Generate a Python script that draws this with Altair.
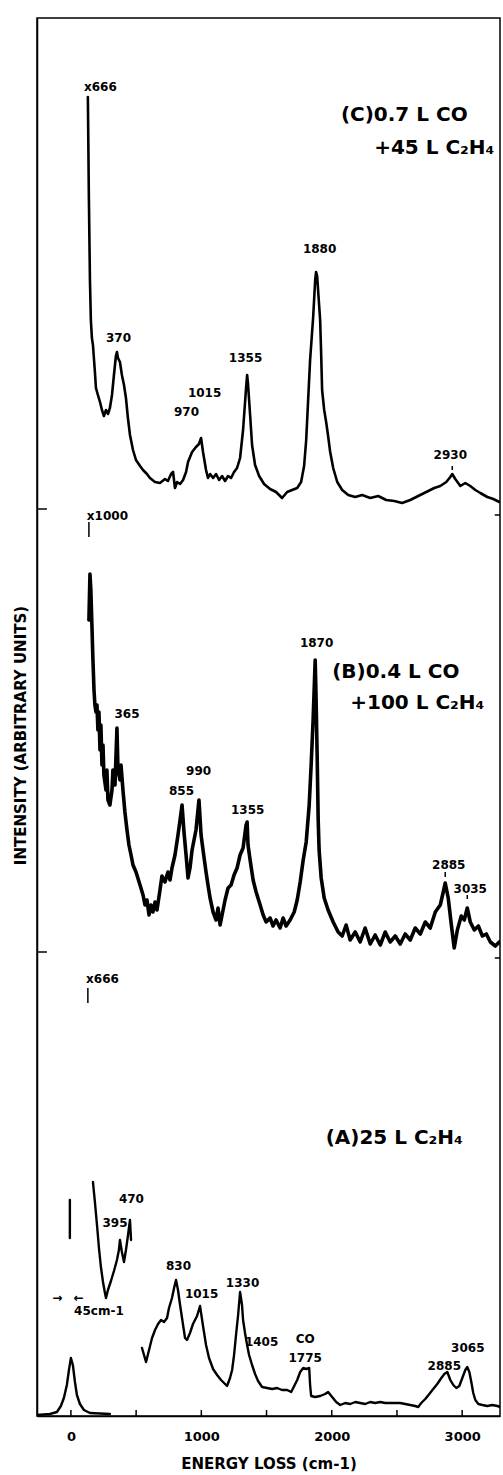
import altair as alt
import pandas as pd

# ---------------- data (energy loss cm-1, intensity in arbitrary units above each panel's base) ----------
# (C) 0.7 L CO + 45 L C2H4, x666
C_SPEC = [(130, 412), (138, 309), (146, 229), (153, 189), (161, 171), (169, 164), (184, 137), (192, 121),
          (207, 114), (223, 107), (238, 99), (253, 93), (269, 99), (284, 95), (299, 101), (315, 114),
          (330, 134), (345, 153), (353, 157), (361, 151), (376, 147), (391, 134), (407, 124), (422, 111),
          (437, 91), (453, 74), (476, 59), (499, 49), (530, 43), (553, 39), (583, 35), (606, 31), (645, 27),
          (683, 26), (721, 30), (744, 28), (768, 35), (783, 37), (798, 21), (814, 27), (837, 25), (860, 29),
          (883, 37), (898, 47), (929, 57), (959, 62), (982, 65), (998, 71), (1013, 57), (1036, 39), (1051, 31),
          (1067, 35), (1090, 31), (1113, 35), (1136, 29), (1159, 33), (1182, 28), (1205, 33), (1228, 31),
          (1251, 37), (1274, 41), (1297, 51), (1320, 79), (1343, 121), (1351, 134), (1358, 125), (1374, 94),
          (1389, 64), (1412, 44), (1443, 33), (1481, 25), (1527, 20), (1573, 17), (1619, 11), (1658, 17),
          (1696, 19), (1735, 21), (1765, 27), (1788, 43), (1804, 69), (1819, 109), (1834, 149), (1857, 191),
          (1873, 229), (1880, 237), (1888, 233), (1903, 204), (1911, 189), (1919, 154), (1926, 119), (1942, 99),
          (1957, 87), (1972, 73), (1988, 57), (2011, 41), (2042, 27), (2080, 19), (2126, 14), (2180, 12),
          (2233, 14), (2295, 11), (2356, 13), (2418, 9), (2479, 8), (2540, 6), (2602, 9), (2663, 13), (2725, 17),
          (2786, 21), (2832, 23), (2878, 27), (2909, 32), (2924, 35), (2947, 30), (2986, 23), (3024, 26),
          (3062, 23), (3101, 19), (3139, 16), (3193, 12), (3239, 10), (3285, 7)]

# (B) 0.4 L CO + 100 L C2H4, x1000
B_SPEC = [(138, 332), (146, 378), (153, 362), (161, 327), (169, 292), (177, 262), (184, 247), (192, 240),
          (200, 247), (207, 222), (215, 240), (223, 202), (230, 227), (238, 187), (246, 207), (253, 177),
          (269, 162), (276, 182), (284, 152), (299, 147), (315, 162), (322, 182), (338, 167), (353, 224),
          (361, 182), (376, 172), (384, 187), (399, 162), (414, 140), (430, 122), (445, 107), (461, 97),
          (476, 87), (499, 80), (530, 67), (553, 57), (568, 47), (583, 52), (599, 37), (614, 47), (629, 40),
          (645, 50), (660, 42), (683, 62), (698, 76), (721, 70), (744, 80), (760, 72), (775, 84), (798, 97),
          (821, 117), (837, 132), (852, 147), (867, 120), (883, 97), (898, 74), (913, 84), (929, 102),
          (944, 112), (959, 122), (982, 152), (998, 117), (1013, 102), (1036, 80), (1051, 67), (1067, 54),
          (1090, 40), (1113, 32), (1128, 44), (1144, 27), (1159, 37), (1182, 52), (1205, 64), (1228, 67),
          (1251, 77), (1274, 84), (1297, 97), (1320, 104), (1343, 127), (1351, 130), (1358, 107), (1374, 92),
          (1397, 72), (1420, 60), (1451, 47), (1474, 37), (1497, 30), (1527, 34), (1550, 26), (1573, 32),
          (1604, 24), (1627, 34), (1650, 26), (1681, 32), (1712, 40), (1735, 52), (1758, 70), (1781, 92),
          (1804, 110), (1827, 147), (1842, 187), (1857, 232), (1873, 292), (1880, 252), (1888, 197),
          (1896, 132), (1903, 102), (1919, 74), (1942, 54), (1972, 42), (2011, 30), (2049, 20), (2080, 16),
          (2110, 27), (2141, 12), (2180, 20), (2218, 10), (2256, 24), (2295, 8), (2333, 17), (2372, 7),
          (2410, 20), (2448, 10), (2487, 16), (2525, 8), (2563, 18), (2602, 12), (2640, 24), (2679, 18),
          (2717, 30), (2755, 24), (2794, 40), (2832, 47), (2855, 60), (2870, 69), (2893, 54), (2917, 27),
          (2939, 4), (2963, 22), (2993, 36), (3016, 32), (3039, 44), (3062, 30), (3093, 22), (3124, 26),
          (3155, 16), (3185, 18), (3216, 10), (3254, 6), (3285, 10)]

# (A) 25 L C2H4: elastic peak (x1) and the x666 loss spectrum
A_ELASTIC = [(-261, 1), (-161, 2), (-107, 4), (-77, 10), (-54, 18), (-31, 31), (-15, 46), (0, 58), (15, 51),
             (31, 34), (46, 21), (69, 12), (100, 6), (146, 3), (299, 2)]
A_TAIL = [(-8, 216), (-8, 178)]
A_LOW = [(169, 234), (184, 214), (200, 191), (215, 168), (230, 149), (246, 134), (261, 123), (269, 118),
         (284, 126), (307, 135), (330, 145), (353, 156), (368, 166), (376, 176), (391, 164), (407, 154),
         (422, 166), (437, 180), (453, 196), (461, 176)]
A_MAIN = [(545, 68), (576, 54), (599, 66), (622, 78), (645, 86), (668, 92), (691, 96), (714, 94), (737, 98),
          (752, 108), (775, 118), (791, 128), (806, 136), (821, 126), (837, 111), (860, 91), (875, 78),
          (890, 76), (913, 83), (936, 92), (967, 100), (990, 110), (1013, 90), (1036, 71), (1059, 58),
          (1090, 47), (1121, 41), (1151, 36), (1182, 32), (1197, 30), (1220, 38), (1236, 46), (1251, 61),
          (1266, 81), (1282, 101), (1297, 124), (1312, 111), (1320, 96), (1335, 83), (1351, 71), (1366, 61),
          (1389, 51), (1412, 42), (1435, 35), (1466, 29), (1504, 28), (1543, 27), (1581, 28), (1619, 26),
          (1658, 26), (1689, 24), (1712, 30), (1735, 36), (1758, 44), (1781, 48), (1804, 47), (1827, 48),
          (1834, 31), (1842, 20), (1873, 19), (1911, 20), (1949, 22), (1972, 24), (2003, 19), (2034, 14),
          (2065, 11), (2103, 13), (2141, 12), (2180, 14), (2218, 13), (2256, 12), (2295, 14), (2333, 13),
          (2372, 14), (2410, 13), (2448, 13), (2487, 13), (2525, 13), (2563, 12), (2602, 11), (2640, 10),
          (2663, 9), (2686, 13), (2717, 17), (2748, 22), (2778, 27), (2809, 32), (2840, 38), (2863, 42),
          (2886, 44), (2909, 36), (2932, 31), (2955, 28), (2978, 30), (3001, 38), (3024, 46), (3039, 49),
          (3055, 44), (3070, 34), (3085, 23), (3101, 16), (3124, 12), (3155, 11), (3193, 10), (3231, 11),
          (3270, 10), (3293, 9)]

# peak labels: (text, energy, intensity above panel base, panel)
PEAK_LABELS = [("x666", 226, 422, "C"), ("370", 365, 171, "C"), ("1355", 1339, 151, "C"),
               ("1015", 1025, 116, "C"), ("970", 886, 97, "C"), ("1880", 1907, 260, "C"),
               ("2930", 2909, 54, "C"),
               ("x1000", 280, 436, "B"), ("1870", 1884, 309, "B"), ("365", 430, 238, "B"),
               ("990", 979, 181, "B"), ("855", 848, 161, "B"), ("1355", 1355, 142, "B"),
               ("2885", 2897, 87, "B"), ("3035", 3062, 63, "B"),
               ("x666", 242, 437, "A"), ("470", 464, 217, "A"), ("395", 338, 193, "A"),
               ("830", 825, 150, "A"), ("1015", 1002, 122, "A"), ("1330", 1316, 133, "A"),
               ("45cm-1", 215, 105, "A"), ("1405", 1462, 74, "A"), ("CO", 1796, 77, "A"),
               ("1775", 1796, 58, "A"), ("3065", 3043, 68, "A"), ("2885", 2863, 50, "A"),
               ("\u2192", -104, 118, "A"), ("\u2190", 61, 118, "A")]

# panel titles: (text, energy at centre, intensity above panel base, panel)
PANEL_TITLES = [("(C)0.7 L CO", 2556, 394, "C"), ("+45 L C\u2082H\u2084", 2786, 361, "C"),
                ("(B)0.4 L CO", 2491, 280, "B"), ("+100 L C\u2082H\u2084", 2656, 249, "B"),
                ("(A)25 L C\u2082H\u2084", 2479, 278, "A")]

# small marker strokes: (energy, from intensity, to intensity, panel)
MARKS = [(138, 415, 430, "B"), (130, 413, 428, "A"), (2924, 39, 43, "C"), (2870, 75, 80, "B"),
         (3039, 53, 57, "B")]

PANEL_BASE = {"A": 0, "B": 464, "C": 907}
X_TICKS = [0, 500, 1000, 1500, 2000, 2500, 3000]
X_LABELS = [0, 1000, 2000, 3000]
X_DOMAIN = [-260, 3290]
Y_DOMAIN = [0, 1398]

# ---------------- tables ----------------
rows = []
for panel, seg, pts in [("C", "C", C_SPEC), ("B", "B", B_SPEC), ("A", "A0", A_ELASTIC),
                        ("A", "A1", A_TAIL), ("A", "A2", A_LOW), ("A", "A3", A_MAIN)]:
    for k, (e, i) in enumerate(pts):
        rows.append({"panel": panel, "seg": seg, "k": k, "E": e, "Y": i + PANEL_BASE[panel]})
spec = pd.DataFrame(rows)

labels = pd.DataFrame([{"t": t, "E": e, "Y": i + PANEL_BASE[p]} for t, e, i, p in PEAK_LABELS])
titles = pd.DataFrame([{"t": t, "E": e, "Y": i + PANEL_BASE[p]} for t, e, i, p in PANEL_TITLES])

rules = [{"E": e, "E2": e, "Y": a + PANEL_BASE[p], "Y2": b + PANEL_BASE[p]} for e, a, b, p in MARKS]
for t in X_TICKS:
    rules.append({"E": t, "E2": t, "Y": 0, "Y2": 6})
for p in ("B", "C"):
    rules.append({"E": X_DOMAIN[0], "E2": -184, "Y": PANEL_BASE[p], "Y2": PANEL_BASE[p]})
    rules.append({"E": 3250, "E2": X_DOMAIN[1], "Y": PANEL_BASE[p] - 6, "Y2": PANEL_BASE[p] - 6})
rules = pd.DataFrame(rules)

# ---------------- chart ----------------
FONT = "DejaVu Sans"
xs = alt.Scale(domain=X_DOMAIN, nice=False, zero=False)
ys = alt.Scale(domain=Y_DOMAIN, nice=False, zero=False)
x_axis = alt.Axis(values=X_LABELS, format="d", ticks=False, grid=False, labelFont=FONT,
                  labelFontWeight="bold", labelFontSize=13, labelColor="black", labelPadding=14,
                  labelFlush=False, domainColor="black", domainWidth=1.5, titleFont=FONT,
                  titleFontWeight="bold", titleFontSize=15, titleColor="black", titlePadding=13)
y_axis = alt.Axis(labels=False, ticks=False, grid=False, domainColor="black", domainWidth=1.5,
                  titleFont=FONT, titleFontWeight="bold", titleFontSize=15, titleColor="black",
                  titleAngle=270, titleX=-17, titleY=717, titleAlign="center", titleBaseline="middle")
X = alt.X("E:Q", scale=xs, axis=x_axis, title="ENERGY LOSS (cm-1)")
Y = alt.Y("Y:Q", scale=ys, axis=y_axis, title="INTENSITY (ARBITRARY UNITS)")


def trace(panel, width):
    return alt.Chart(spec).transform_filter(alt.datum.panel == panel).mark_line(
        color="black", strokeWidth=width, strokeJoin="round", strokeCap="round", clip=True
    ).encode(x=X, y=Y, detail="seg:N", order="k:Q")


rule_layer = alt.Chart(rules).mark_rule(color="black", strokeWidth=1.5).encode(
    x=X, x2="E2:Q", y=Y, y2="Y2:Q")

label_layer = alt.Chart(labels).mark_text(
    font=FONT, fontWeight="bold", fontSize=12, color="black", align="center", baseline="middle"
).encode(x=X, y=Y, text="t:N")

title_layer = alt.Chart(titles).mark_text(
    font=FONT, fontWeight="bold", fontSize=20, color="black", align="center", baseline="middle"
).encode(x=X, y=Y, text="t:N")

chart = alt.layer(
    trace("C", 2.6), trace("B", 3.6), trace("A", 2.4), rule_layer, label_layer, title_layer
).properties(
    width=463, height=1398,
    autosize=alt.AutoSizeParams(type="none"),
    padding={"left": 37, "top": 18, "right": 3, "bottom": 59},
    background="white",
).configure_view(stroke="black", strokeWidth=1.5)

chart.save("out.html", embed_options={"renderer": "svg", "actions": False})
